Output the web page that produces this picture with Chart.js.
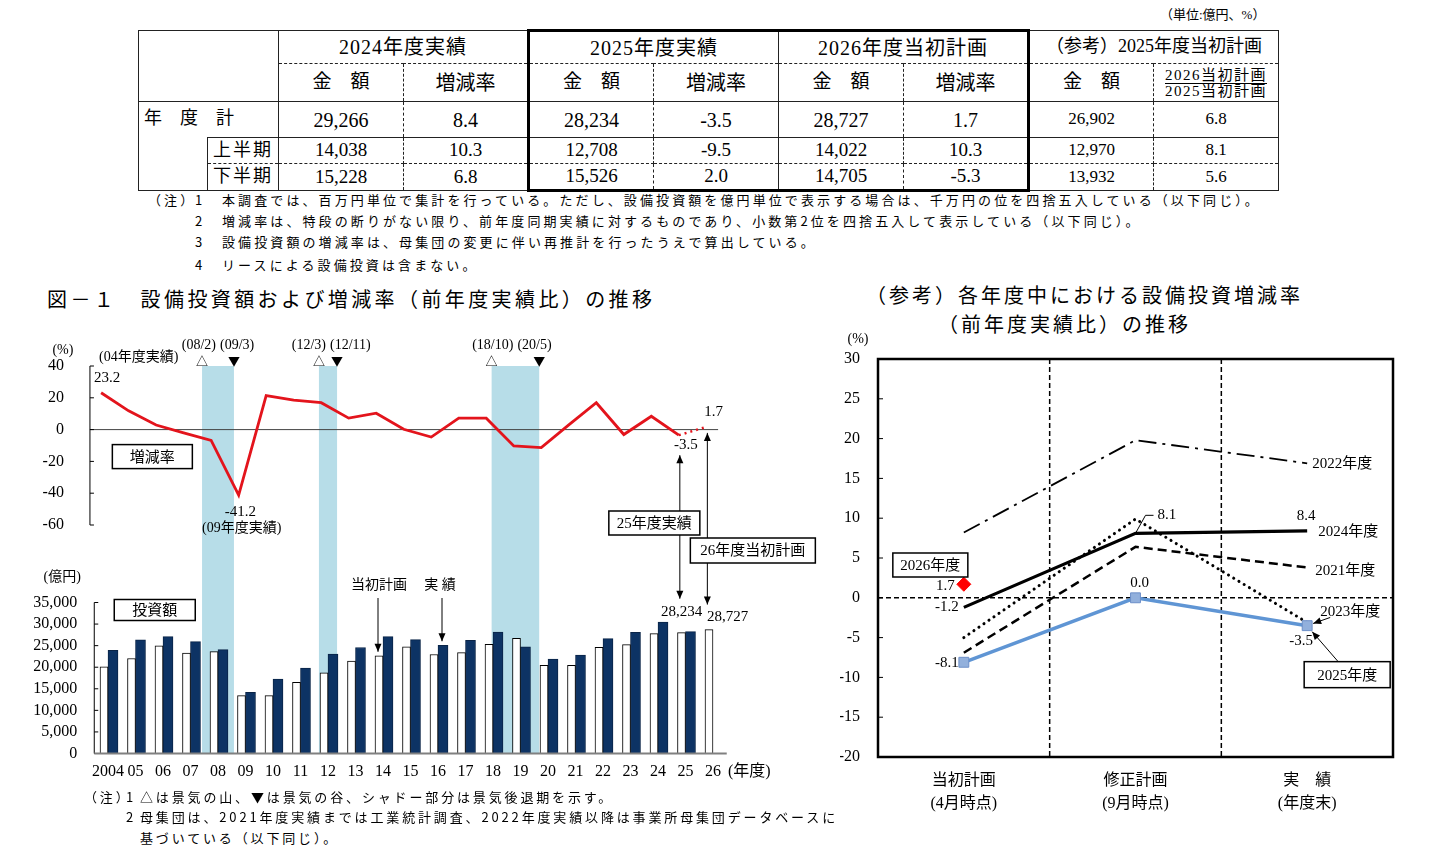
<!DOCTYPE html>
<html lang="ja">
<head>
<meta charset="utf-8">
<title>設備投資額および増減率の推移</title>
<script src="https://cdn.jsdelivr.net/npm/chart.js@4.4.1/dist/chart.umd.min.js"></script>
<style>
  html, body { margin: 0; padding: 0; background: #fff; }
  body { position: relative; width: 1434px; height: 868px; overflow: hidden; color: #000;
         font-family: "Liberation Serif", "Noto Sans CJK JP", serif; }
  .t { position: absolute; white-space: nowrap; line-height: 1; }
  .ttl { font-family: "Noto Sans CJK JP", sans-serif; font-size: 20px; letter-spacing: 3px; }
  .note { position: absolute; white-space: nowrap; font-family: "Noto Sans CJK JP", sans-serif;
          font-size: 13px; letter-spacing: 3.1px; line-height: 16px; }
  .note.b { letter-spacing: 2.85px; }
  #tbl { position: absolute; left: 138px; top: 29px; width: 1140px; border-collapse: collapse; table-layout: fixed; }
  #tbl td { border: 1.5px solid #222; padding: 0; text-align: center; vertical-align: middle;
            white-space: nowrap; overflow: visible; font-size: 19px; line-height: 1.1; }
  #tbl .hd { font-size: 20px; letter-spacing: 1px; }
  #tbl .db { border-bottom: 1.5px dashed #222; }
  #tbl .dt { border-top: 1.5px dashed #222; }
  #tbl .dr { border-right: 1.5px dashed #222; }
  #tbl .dl { border-left: 1.5px dashed #222; }
  #tbl .kl { border-left: 3px solid #000; }
  #tbl .kr { border-right: 3px solid #000; }
  #tbl .kt { border-top: 3px solid #000; }
  #tbl .kb { border-bottom: 3px solid #000; }
  #tbl .nr { border-right: none; }
  #tbl .nl { border-left: none; }
  #tbl .big { font-size: 20px; }
  #tbl .ref { font-size: 17px; }
  canvas { position: absolute; }
</style>
</head>
<body>

<div class="t" style="left:1160px; top:8px; font-size:13px;">（単位:億円、%）</div>

<table id="tbl">
  <colgroup>
    <col style="width:69px"><col style="width:71px">
    <col style="width:125px"><col style="width:125px"><col style="width:125px"><col style="width:125px">
    <col style="width:125px"><col style="width:125px"><col style="width:125px"><col style="width:125px">
  </colgroup>
  <tr style="height:33px">
    <td colspan="2" rowspan="2"></td>
    <td colspan="2" class="db hd">2024年度実績</td>
    <td colspan="2" class="db kl kt hd">2025年度実績</td>
    <td colspan="2" class="db kr kt hd">2026年度当初計画</td>
    <td colspan="2" class="db" style="font-size:18px">（参考）2025年度当初計画</td>
  </tr>
  <tr style="height:38px">
    <td class="dt dr">金　額</td><td class="dt dl" style="font-size:20px">増減率</td>
    <td class="dt dr kl">金　額</td><td class="dt dl" style="font-size:20px">増減率</td>
    <td class="dt dr">金　額</td><td class="dt dl kr" style="font-size:20px">増減率</td>
    <td class="dt dr">金　額</td>
    <td class="dt dl"><div style="font-size:15px; line-height:16px; letter-spacing:1.5px"><span style="border-bottom:1px solid #000">2026当初計画</span><br>2025当初計画</div></td>
  </tr>
  <tr style="height:36px">
    <td rowspan="3" class="nr" style="text-align:left; vertical-align:top; padding:7px 0 0 5px; font-size:18px;">年　度　計</td>
    <td class="nl"></td>
    <td class="dr big">29,266</td><td class="dl big">8.4</td>
    <td class="dr kl big">28,234</td><td class="dl big">-3.5</td>
    <td class="dr big">28,727</td><td class="dl kr big">1.7</td>
    <td class="dr ref">26,902</td><td class="dl ref">6.8</td>
  </tr>
  <tr style="height:26px">
    <td class="db" style="letter-spacing:2px; font-size:18px">上半期</td>
    <td class="db dr">14,038</td><td class="db dl">10.3</td>
    <td class="db dr kl">12,708</td><td class="db dl">-9.5</td>
    <td class="db dr">14,022</td><td class="db dl kr">10.3</td>
    <td class="db dr ref">12,970</td><td class="db dl ref">8.1</td>
  </tr>
  <tr style="height:27px">
    <td class="dt" style="letter-spacing:2px; font-size:18px">下半期</td>
    <td class="dt dr">15,228</td><td class="dt dl">6.8</td>
    <td class="dt dr kl kb">15,526</td><td class="dt dl kb">2.0</td>
    <td class="dt dr kb">14,705</td><td class="dt dl kr kb">-5.3</td>
    <td class="dt dr ref">13,932</td><td class="dt dl ref">5.6</td>
  </tr>
</table>

<div class="note" style="left:148px; top:192px;">（注）</div>
<div class="note" style="left:195px; top:192px;">1</div>
<div class="note" style="left:222px; top:192px;">本調査では、百万円単位で集計を行っている。ただし、設備投資額を億円単位で表示する場合は、千万円の位を四捨五入している（以下同じ）。</div>
<div class="note" style="left:195px; top:213px;">2</div>
<div class="note" style="left:222px; top:213px;">増減率は、特段の断りがない限り、前年度同期実績に対するものであり、小数第2位を四捨五入して表示している（以下同じ）。</div>
<div class="note" style="left:195px; top:234px;">3</div>
<div class="note" style="left:222px; top:234px;">設備投資額の増減率は、母集団の変更に伴い再推計を行ったうえで算出している。</div>
<div class="note" style="left:195px; top:257px;">4</div>
<div class="note" style="left:222px; top:257px;">リースによる設備投資は含まない。</div>

<div class="t ttl" style="left:47px; top:289px; letter-spacing:3.4px;">図－１　設備投資額および増減率（前年度実績比）の推移</div>
<div class="t ttl" style="left:866px; top:285px;">（参考）各年度中における設備投資増減率</div>
<div class="t ttl" style="left:938px; top:314px;">（前年度実績比）の推移</div>

<canvas id="barChart" width="840" height="460" style="left:0; top:330px;"></canvas>
<canvas id="lineChart" width="840" height="460" style="left:0; top:330px;"></canvas>
<canvas id="rightChart" width="580" height="490" style="left:840px; top:330px;"></canvas>

<div class="note b" style="left:84px; top:789px;">（注）</div>
<div class="note b" style="left:126px; top:789px;">1</div>
<div class="note b" style="left:140px; top:789px;">△は景気の山、▼は景気の谷、シャドー部分は景気後退期を示す。</div>
<div class="note b" style="left:126px; top:809px;">2</div>
<div class="note b" style="left:140px; top:809px;">母集団は、2021年度実績までは工業統計調査、2022年度実績以降は事業所母集団データベースに</div>
<div class="note b" style="left:140px; top:830px;">基づいている（以下同じ）。</div>

<script>
// ---- 図－１ データ ----
const years        = ['2004', '05', '06', '07', '08', '09', '10', '11', '12', '13', '14', '15',
                      '16', '17', '18', '19', '20', '21', '22', '23', '24', '25', '26'];
// 増減率（%） 2004〜2025年度実績
const growthRate   = [23.2, 11.8, 2.9, -2.0, -6.8, -41.2, 21.4, 18.6, 16.9, 7.2, 10.3, 0.2,
                      -4.7, 7.2, 7.2, -10.3, -11.3, 3.0, 16.9, -3.1, 8.4, -3.5];
const growthPlan26 = 1.7;   // 26年度当初計画
// 投資額（億円）
const planAmount   = [20100, 22020, 24940, 23250, 23630, 13430, 13430, 16500, 18720, 21410, 22640, 24710,
                      22940, 23400, 25320, 26700, 20410, 20410, 24630, 25240, 27780, 28010, 28727];
const actualAmount = [23940, 26320, 27090, 25940, 24090, 14200, 17260, 19800, 23020, 24560, 27090, 26400,
                      25090, 26240, 28160, 24710, 21870, 22790, 26630, 28080, 30460, 28234, null];
// 景気の山・谷（カテゴリ位置で表した景気後退期）
const peakLabels    = ['(08/2)', '(12/3)', '(18/10)'];
const troughLabels  = ['(09/3)', '(12/11)', '(20/5)'];
const recessionFrom = [3.42, 7.67, 13.95];
const recessionTo   = [4.58, 8.33, 15.68];
const rateTicks     = [40, 20, 0, -20, -40, -60];
const amountTicks   = [0, 5000, 10000, 15000, 20000, 25000, 30000, 35000];

// ---- (参考) データ ----
const stageLabels = [['当初計画', '(4月時点)'], ['修正計画', '(9月時点)'], ['実　績', '(年度末)']];
const fy2021 = [-6.9, 6.4, 3.8];
const fy2022 = [8.2, 19.8, 16.9];
const fy2023 = [-5.0, 9.9, -3.1];
const fy2024 = [-1.2, 8.1, 8.4];
const fy2025 = [-8.1, 0.0, -3.5];
const fy2026 = [1.7, null, null];

const SERIF = '"Liberation Serif", "Noto Sans CJK JP", serif';
const JP = '"Noto Sans CJK JP", sans-serif';

function label(ctx, s, x, y, align, size, fam) {
  ctx.font = size + 'px ' + (fam || SERIF);
  ctx.textAlign = align || 'center';
  ctx.textBaseline = 'middle';
  ctx.fillStyle = '#000';
  ctx.fillText(s, x, y);
}
function seg(ctx, x1, y1, x2, y2) {
  ctx.beginPath(); ctx.moveTo(x1, y1); ctx.lineTo(x2, y2); ctx.stroke();
}
function boxed(ctx, s, x, y, w, h, size) {
  ctx.setLineDash([]);
  ctx.fillStyle = '#fff'; ctx.fillRect(x, y, w, h);
  ctx.lineWidth = 1.5; ctx.strokeStyle = '#000'; ctx.strokeRect(x, y, w, h);
  label(ctx, s, x + w / 2, y + h / 2 + 1, 'center', size);
}
function head(ctx, x1, y1, x2, y2) {
  const a = Math.atan2(y2 - y1, x2 - x1), len = 8, wid = 3.5;
  ctx.beginPath();
  ctx.moveTo(x2, y2);
  ctx.lineTo(x2 - len * Math.cos(a) + wid * Math.sin(a), y2 - len * Math.sin(a) - wid * Math.cos(a));
  ctx.lineTo(x2 - len * Math.cos(a) - wid * Math.sin(a), y2 - len * Math.sin(a) + wid * Math.cos(a));
  ctx.closePath(); ctx.fill();
}
function arrow(ctx, x1, y1, x2, y2, both) {
  ctx.setLineDash([]);
  ctx.strokeStyle = '#000'; ctx.fillStyle = '#000'; ctx.lineWidth = 1;
  seg(ctx, x1, y1, x2, y2);
  head(ctx, x1, y1, x2, y2);
  if (both) head(ctx, x2, y2, x1, y1);
}

// ---- 図－１ 上段：増減率 ----
const LINE_AREA = { left: 87.35, right: 720.1, top: 36, bottom: 195 };
const BAR_AREA  = { left: 94.25, right: 726.75, top: 272.5, bottom: 423.5 };
const rateMax = rateTicks[0], rateMin = rateTicks[rateTicks.length - 1];
const amtMax = amountTicks[amountTicks.length - 1];
const last = years.length - 1, i25 = growthRate.length - 1;

const lineDeco = {
  id: 'lineDeco',
  beforeDatasetsDraw(chart) {
    const { ctx, chartArea: ca, scales: { y } } = chart;
    ctx.save();
    ctx.strokeStyle = '#444'; ctx.lineWidth = 1;
    seg(ctx, ca.left + 2.6, y.getPixelForValue(0), ca.right - 2, y.getPixelForValue(0));
    ctx.restore();
  },
  afterDatasetsDraw(chart) {
    const { ctx, chartArea: ca, scales: { x, y } } = chart;
    const X = i => x.getPixelForValue(i), Y = v => y.getPixelForValue(v);
    ctx.save();
    const ax = ca.left + 2.6;
    ctx.strokeStyle = '#000'; ctx.lineWidth = 1;
    seg(ctx, ax, Y(rateMax), ax, Y(rateMin));
    rateTicks.forEach(v => {
      seg(ctx, ax, Y(v), ax + 4, Y(v));
      label(ctx, String(v), ax - 26, Y(v), 'right', 16);
    });
    label(ctx, '(%)', ax - 27, Y(rateMax) - 16, 'center', 14);

    label(ctx, '(04年度実績)', X(0) - 2, Y(rateMax) - 9, 'left', 14);
    label(ctx, growthRate[0].toFixed(1), X(0) - 7, Y(growthRate[0]) - 15, 'left', 15);
    const iMin = growthRate.indexOf(Math.min(...growthRate));
    label(ctx, growthRate[iMin].toFixed(1), X(iMin) - 14, Y(growthRate[iMin]) + 17, 'left', 15);
    label(ctx, '(09年度実績)', X(iMin) + 3, Y(growthRate[iMin]) + 33, 'center', 14);
    label(ctx, growthRate[i25].toFixed(1), X(i25) + 7, Y(growthRate[i25]) + 10, 'center', 15);
    label(ctx, growthPlan26.toFixed(1), X(last) - 2, Y(growthPlan26) - 15, 'left', 15);
    boxed(ctx, '増減率', ca.left + 25, Y(0) + 15, 80, 24, 15);
    ctx.restore();
  }
};

const lineChart = new Chart(document.getElementById('lineChart'), {
  type: 'line',
  data: {
    labels: years,
    datasets: [
      { label: '増減率', data: growthRate, borderColor: '#e3141c', borderWidth: 2.8, pointRadius: 0, tension: 0 },
      { label: '増減率（26年度当初計画）',
        data: years.map((_, i) => i === i25 ? growthRate[i25] : (i === last ? growthPlan26 : null)),
        borderColor: '#e3141c', borderWidth: 2.5, borderDash: [2, 4], pointRadius: 0, spanGaps: true }
    ]
  },
  options: {
    responsive: false,
    animation: false,
    layout: { padding: { left: LINE_AREA.left, right: 840 - LINE_AREA.right, top: LINE_AREA.top, bottom: 460 - LINE_AREA.bottom } },
    plugins: { legend: { display: false }, tooltip: { enabled: false } },
    scales: {
      x: { type: 'category', display: false, offset: true },
      y: { type: 'linear', display: false, min: rateMin, max: rateMax }
    }
  },
  plugins: [lineDeco]
});

// ---- 図－１ 下段：投資額（シャドー・注記もこちらで描く） ----
const barDeco = {
  id: 'barDeco',
  beforeDatasetsDraw(chart) {
    const { ctx, scales: { x, y } } = chart;
    const top = lineChart.scales.y.getPixelForValue(rateMax), bot = y.getPixelForValue(0);
    ctx.save();
    ctx.fillStyle = '#b7dde8';
    recessionFrom.forEach((f, k) => {
      const x1 = x.getPixelForValue(f), x2 = x.getPixelForValue(recessionTo[k]);
      ctx.fillRect(x1, top, x2 - x1, bot - top);
    });
    ctx.restore();
  },
  afterDatasetsDraw(chart) {
    const { ctx, chartArea: ca, scales: { x, y } } = chart;
    const X = i => x.getPixelForValue(i), YB = v => y.getPixelForValue(v);
    const LX = i => lineChart.scales.x.getPixelForValue(i), YL = v => lineChart.scales.y.getPixelForValue(v);
    ctx.save();

    ctx.strokeStyle = '#000'; ctx.lineWidth = 1;
    seg(ctx, ca.left, YB(amtMax), ca.left, YB(0));
    amountTicks.forEach(v => {
      seg(ctx, ca.left, YB(v), ca.left + 4, YB(v));
      label(ctx, v.toLocaleString('en-US'), ca.left - 17, YB(v), 'right', 16);
    });
    ctx.strokeStyle = '#808080'; ctx.lineWidth = 2;
    seg(ctx, ca.left, YB(0), ca.right, YB(0));
    years.forEach((s, i) => label(ctx, s, X(i), ca.bottom + 18.5, 'center', 16));
    label(ctx, '(年度)', X(last) + 15, ca.bottom + 18.5, 'left', 16);
    label(ctx, '(億円)', ca.left - 32, YB(amtMax) - 25.5, 'center', 14);

    // 景気の山・谷
    recessionFrom.forEach((f, k) => {
      const x1 = X(f), x2 = X(recessionTo[k]);
      const my = YL(rateMax) - 5, ty = YL(rateMax) - 21;
      label(ctx, '△', x1, my, 'center', 12, JP);
      label(ctx, '▼', x2, my, 'center', 12, JP);
      if (x2 - x1 < 50) {
        const mid = (x1 + x2) / 2;
        label(ctx, peakLabels[k], mid - 2, ty, 'right', 14);
        label(ctx, troughLabels[k], mid + 2, ty, 'left', 14);
      } else {
        label(ctx, peakLabels[k], x1, ty, 'center', 14);
        label(ctx, troughLabels[k], x2, ty, 'center', 14);
      }
    });

    // 25年度実績・26年度当初計画
    const a25 = LX(i25) + 1;
    arrow(ctx, a25, YB(actualAmount[i25]) - 33, a25, YL(growthRate[i25]) + 20, true);
    boxed(ctx, '25年度実績', a25 - 71, YL(rateMin) - 14, 91, 24, 15);
    const a26 = LX(last) + 1;
    arrow(ctx, a26, YB(planAmount[last]) - 25, a26, YL(growthPlan26) + 6, true);
    boxed(ctx, '26年度当初計画', a26 - 17, YL(rateMin) + 13, 125, 25, 15);
    label(ctx, actualAmount[i25].toLocaleString('en-US'), X(i25) - 4, YB(actualAmount[i25]) - 20, 'center', 15);
    label(ctx, planAmount[last].toLocaleString('en-US'), X(last) - 6, YB(planAmount[last]) - 13, 'left', 15);

    boxed(ctx, '投資額', ca.left + 20, YB(amtMax) - 3, 81, 21, 15);
    const ty = YB(amtMax) - 17.5;
    const pX = X(10) - 5, aX = X(12) + 4;
    label(ctx, '当初計画', pX + 1, ty, 'center', 14);
    arrow(ctx, pX, ty + 13, pX, YB(planAmount[10]) - 4, false);
    label(ctx, '実 績', aX - 2, ty, 'center', 14);
    arrow(ctx, aX, ty + 13, aX, YB(actualAmount[12]) - 4, false);
    ctx.restore();
  }
};

new Chart(document.getElementById('barChart'), {
  type: 'bar',
  data: {
    labels: years,
    datasets: [
      { label: '当初計画', data: planAmount, backgroundColor: '#fff', borderColor: '#000', borderWidth: 1,
        barThickness: 8 },
      { label: '実績', data: actualAmount, backgroundColor: '#0d3364', borderColor: '#0a2447', borderWidth: 1,
        barThickness: 10 }
    ]
  },
  options: {
    responsive: false,
    animation: false,
    layout: { padding: { left: BAR_AREA.left, right: 840 - BAR_AREA.right, top: BAR_AREA.top, bottom: 460 - BAR_AREA.bottom } },
    plugins: { legend: { display: false }, tooltip: { enabled: false } },
    scales: {
      x: { type: 'category', display: false, offset: true },
      y: { type: 'linear', display: false, min: 0, max: amtMax }
    }
  },
  plugins: [barDeco]
});

// ---- (参考) 各年度中における設備投資増減率 ----
const rightDeco = {
  id: 'rightDeco',
  beforeDatasetsDraw(chart) {
    const { ctx, chartArea: ca, scales: { x, y } } = chart;
    ctx.save();
    ctx.strokeStyle = '#000'; ctx.lineWidth = 1.5; ctx.setLineDash([5, 3]);
    for (let i = 0; i < stageLabels.length - 1; i++) {
      const bx = x.getPixelForValue(i + 0.5);
      seg(ctx, bx, ca.top, bx, ca.bottom);
    }
    seg(ctx, ca.left, y.getPixelForValue(0), ca.right, y.getPixelForValue(0));
    ctx.restore();
  },
  afterDatasetsDraw(chart) {
    const { ctx, chartArea: ca, scales: { x, y } } = chart;
    const P = i => x.getPixelForValue(i), Y = v => y.getPixelForValue(v);
    ctx.save();
    ctx.setLineDash([]);
    ctx.strokeStyle = '#000'; ctx.lineWidth = 2.5;
    ctx.strokeRect(ca.left, ca.top, ca.right - ca.left, ca.bottom - ca.top);
    ctx.lineWidth = 1;
    y.ticks.forEach(t => seg(ctx, ca.left, Y(t.value), ca.left + 5, Y(t.value)));
    label(ctx, '(%)', ca.left - 20, ca.top - 20, 'center', 14);

    boxed(ctx, '2026年度', P(0) - 71, Y(5) - 5, 75, 24, 15);
    label(ctx, fy2026[0].toFixed(1), P(0) - 9, Y(fy2026[0]) + 2, 'right', 15);
    label(ctx, fy2024[0].toFixed(1), P(0) - 5, Y(fy2024[0]), 'right', 15);
    label(ctx, fy2025[0].toFixed(1), P(0) - 5, Y(fy2025[0]) + 1, 'right', 15);
    ctx.strokeStyle = '#000'; ctx.lineWidth = 1;
    ctx.beginPath();
    ctx.moveTo(P(1), Y(fy2024[1]));
    ctx.lineTo(P(1) + 10, Y(fy2024[1]) - 18);
    ctx.lineTo(P(1) + 18, Y(fy2024[1]) - 18);
    ctx.stroke();
    label(ctx, fy2024[1].toFixed(1), P(1) + 22, Y(fy2024[1]) - 18, 'left', 15);
    label(ctx, fy2024[2].toFixed(1), P(2) - 1, Y(fy2024[2]) - 15, 'center', 15);
    label(ctx, fy2025[1].toFixed(1), P(1) + 4, Y(fy2025[1]) - 15, 'center', 15);
    label(ctx, fy2025[2].toFixed(1), P(2) - 6, Y(fy2025[2]) + 15, 'center', 15);

    label(ctx, '2022年度', P(2) + 5, Y(fy2022[2]) + 1, 'left', 15);
    label(ctx, '2024年度', P(2) + 11, Y(fy2024[2]) + 1, 'left', 15);
    label(ctx, '2021年度', P(2) + 8, Y(fy2021[2]) + 4, 'left', 15);
    label(ctx, '2023年度', P(2) + 13, Y(fy2023[2]) - 10, 'left', 15);
    arrow(ctx, P(2) + 23, Y(fy2023[2]) - 5, P(2) + 6, Y(fy2023[2]) + 1, false);
    const bTop = Y(fy2025[2]) + 36;
    arrow(ctx, P(2) + 31, bTop, P(2) + 5, Y(fy2025[2]) + 6, false);
    boxed(ctx, '2025年度', P(2) - 3, bTop, 86, 26, 15);
    ctx.restore();
  }
};

new Chart(document.getElementById('rightChart'), {
  type: 'line',
  data: {
    labels: stageLabels,
    datasets: [
      { label: '2026年度', data: fy2026, showLine: false, pointStyle: 'rectRot', pointRadius: 7,
        pointBackgroundColor: '#ff0000', pointBorderColor: '#ff0000' },
      { label: '2025年度', data: fy2025, borderColor: '#5f95d4', borderWidth: 3.5, pointStyle: 'rect', pointRadius: 7,
        pointBackgroundColor: '#92b0dc', pointBorderColor: '#6d8fc8', pointBorderWidth: 1 },
      { label: '2024年度', data: fy2024, borderColor: '#000', borderWidth: 3.2, pointRadius: 0 },
      { label: '2023年度', data: fy2023, borderColor: '#000', borderWidth: 3, borderDash: [0.1, 6],
        borderCapStyle: 'round', pointRadius: 0 },
      { label: '2022年度', data: fy2022, borderColor: '#000', borderWidth: 1.8, borderDash: [18, 6, 3, 6], pointRadius: 0 },
      { label: '2021年度', data: fy2021, borderColor: '#000', borderWidth: 2.5, borderDash: [9, 5], pointRadius: 0 }
    ]
  },
  options: {
    responsive: false,
    animation: false,
    layout: { padding: { left: 0, right: 27, top: 29, bottom: 0 } },
    plugins: { legend: { display: false }, tooltip: { enabled: false } },
    scales: {
      x: {
        offset: true,
        grid: { display: false }, border: { display: false },
        ticks: { color: '#000', padding: 4, font: { family: SERIF, size: 16, lineHeight: 1.45 } },
        afterFit: s => { s.height = 63; }
      },
      y: {
        min: -20, max: 30,
        grid: { display: false, drawTicks: false }, border: { display: false },
        ticks: { stepSize: 5, color: '#000', padding: 18, font: { family: SERIF, size: 16 } },
        afterFit: s => { s.width = 38; }
      }
    }
  },
  plugins: [rightDeco]
});
</script>
</body>
</html>
